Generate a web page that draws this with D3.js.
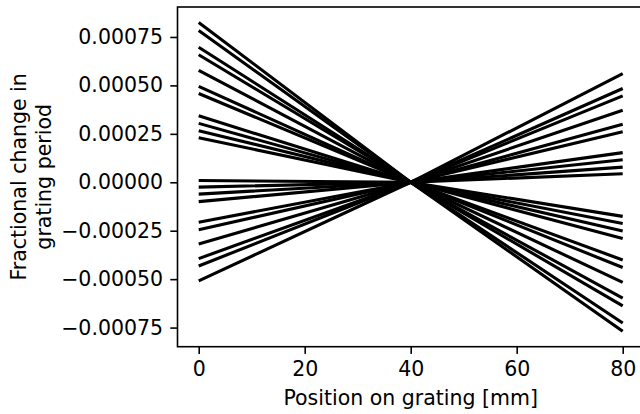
<!DOCTYPE html>
<html>
<head>
<meta charset="utf-8">
<script src="https://cdn.jsdelivr.net/npm/d3@7/dist/d3.min.js"></script>
<style>
  html, body { margin: 0; padding: 0; background: #fff; }
  svg { display: block; overflow: hidden; }
  text { font-family: "DejaVu Sans", sans-serif; fill: #000; }
</style>
</head>
<body>
<svg id="chart" width="640" height="414"></svg>
<script>
// Grating positions where each profile is evaluated [mm]
const positions = [0, 40, 80];

// Fractional period change at the near edge (0 mm) for each profile
const startValues = [
  0.000825, 0.000783, 0.000697, 0.000658, 0.000578, 0.000495, 0.000458,
  0.000343, 0.000304, 0.000266, 0.000230, 0.000009, -0.000025, -0.000061,
  -0.000100, -0.000206, -0.000245, -0.000319, -0.000394, -0.000432, -0.000509
];

// Fractional period change at the grating centre (40 mm): the reference point
const centreValues = [
  0, 0, 0, 0, 0, 0, 0, 0, 0, 0, 0, 0, 0, 0, 0, 0, 0, 0, 0, 0, 0
];

// Fractional period change at the far edge (80 mm) for the same profiles
const endValues = [
  -0.000769, -0.000726, -0.000638, -0.000598, -0.000517, -0.000440, -0.000401,
  -0.000290, -0.000251, -0.000213, -0.000176, 0.000044, 0.000078, 0.000116,
  0.000153, 0.000261, 0.000299, 0.000372, 0.000446, 0.000484, 0.000561
];

const xTicks = [0, 20, 40, 60, 80];
const yTicks = [-0.00075, -0.0005, -0.00025, 0, 0.00025, 0.0005, 0.00075];

const xLabel = "Position on grating [mm]";
const yLabelLines = ["Fractional change in", "grating period"];

const FONT = 20.5;
const plot = { left: 177.5, right: 643.9, top: 7, bottom: 346.7 };

const svg = d3.select("#chart");

// Axis limits with a 5% pad around the data, as in the usual autoscale
const xMin = d3.min(positions), xMax = d3.max(positions);
const xPad = (xMax - xMin) * 0.05;
const allY = startValues.concat(centreValues, endValues);
const yMin = d3.min(allY), yMax = d3.max(allY);
const yPad = (yMax - yMin) * 0.05;

const x = d3.scaleLinear().domain([xMin - xPad, xMax + xPad]).range([plot.left, plot.right]);
const y = d3.scaleLinear().domain([yMin - yPad, yMax + yPad]).range([plot.bottom, plot.top]);

const profiles = startValues.map((v, i) =>
  [v, centreValues[i], endValues[i]].map((val, j) => ({ pos: positions[j], val }))
);

const line = d3.line().x(d => x(d.pos)).y(d => y(d.val));

svg.append("g")
  .selectAll("path")
  .data(profiles)
  .join("path")
  .attr("d", line)
  .attr("fill", "none")
  .attr("stroke", "#000")
  .attr("stroke-width", 3.1)
  .attr("stroke-linejoin", "round");

// Frame
svg.append("rect")
  .attr("x", plot.left).attr("y", plot.top)
  .attr("width", plot.right - plot.left).attr("height", plot.bottom - plot.top)
  .attr("fill", "none").attr("stroke", "#000").attr("stroke-width", 1.6);

const fmtY = v => {
  const s = Math.abs(v).toFixed(5);
  return (v < 0 ? "\u2212" : "") + s;
};

// Bottom axis
const xAxis = d3.axisBottom(x).tickValues(xTicks).tickSize(7.2).tickPadding(7.5).tickFormat(d3.format("d"));
const gx = svg.append("g").attr("transform", `translate(0,${plot.bottom})`).call(xAxis);
gx.select(".domain").remove();
gx.selectAll(".tick line").attr("stroke", "#000").attr("stroke-width", 1.6);
gx.selectAll(".tick text").attr("font-size", FONT).attr("fill", "#000")
  .attr("font-family", "DejaVu Sans, sans-serif");

// Left axis
const yAxis = d3.axisLeft(y).tickValues(yTicks).tickSize(7.2).tickPadding(7.2).tickFormat(fmtY);
const gy = svg.append("g").attr("transform", `translate(${plot.left},0)`).call(yAxis);
gy.select(".domain").remove();
gy.selectAll(".tick line").attr("stroke", "#000").attr("stroke-width", 1.6);
gy.selectAll(".tick text").attr("font-size", FONT).attr("fill", "#000")
  .attr("font-family", "DejaVu Sans, sans-serif");

// Axis titles
svg.append("text")
  .attr("x", (plot.left + plot.right) / 2)
  .attr("y", 405)
  .attr("text-anchor", "middle")
  .attr("font-size", FONT)
  .text(xLabel);

const yMid = (plot.top + plot.bottom) / 2;
const yTitle = svg.append("text")
  .attr("transform", `translate(0,${yMid}) rotate(-90)`)
  .attr("text-anchor", "middle")
  .attr("font-size", FONT);
yLabelLines.forEach((t, i) => {
  yTitle.append("tspan").attr("x", 0).attr("y", 26 + i * 24.6).text(t);
});
</script>
</body>
</html>
